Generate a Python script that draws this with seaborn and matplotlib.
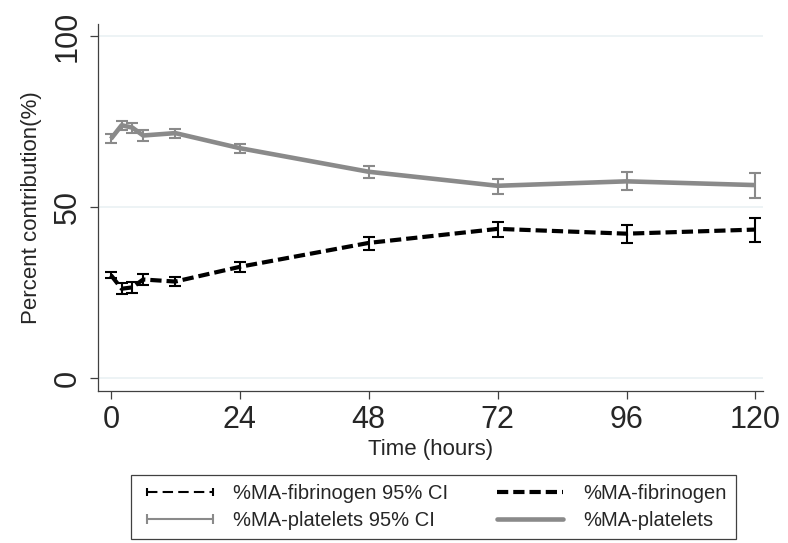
import matplotlib
matplotlib.use("Agg")
import matplotlib.pyplot as plt
from matplotlib.lines import Line2D
import seaborn as sns
import pandas as pd

# ---- data ----
times = [0, 2, 4, 6, 12, 24, 48, 72, 96, 120]
platelets = [70.0, 74.0, 73.3, 71.0, 71.7, 67.3, 60.4, 56.3, 57.6, 56.5]
platelets_lo = [68.8, 72.6, 71.8, 69.3, 70.4, 65.9, 58.6, 53.9, 55.0, 52.8]
platelets_hi = [71.3, 75.3, 74.6, 72.5, 73.0, 68.6, 62.1, 58.3, 60.2, 59.9]
fibrinogen = [30.2, 26.2, 26.6, 28.9, 28.3, 32.6, 39.6, 43.7, 42.3, 43.5]
fibrinogen_lo = [29.2, 24.6, 25.0, 27.3, 27.0, 31.2, 37.6, 41.4, 39.6, 39.8]
fibrinogen_hi = [31.2, 27.9, 28.2, 30.5, 29.7, 34.0, 41.3, 45.8, 44.8, 46.9]

labels = ["%MA-fibrinogen 95% CI", "%MA-fibrinogen",
          "%MA-platelets 95% CI", "%MA-platelets"]
x_ticks = [0, 24, 48, 72, 96, 120]
y_ticks = [0, 50, 100]

df = pd.DataFrame({
    "time": times,
    "platelets": platelets, "plt_lo": platelets_lo, "plt_hi": platelets_hi,
    "fibrinogen": fibrinogen, "fib_lo": fibrinogen_lo, "fib_hi": fibrinogen_hi,
})

sns.set_style("white")
plt.rcParams["font.family"] = ["Liberation Sans", "DejaVu Sans"]

GRAY = "#8a8a8a"
BLACK = "#000000"
AXC = "#404040"

fig = plt.figure(figsize=(7.88, 5.43), dpi=100)
ax = fig.add_axes([98 / 788, 152 / 543, 665 / 788, 367 / 543])

# grid lines
for v in y_ticks:
    ax.axhline(v, color="#e8f0f3", lw=1.1, zorder=0)

# confidence intervals
cap_kw = dict(fmt="none", capsize=4.2, elinewidth=1.5, capthick=1.5, zorder=2)
ax.errorbar(df["time"], df["fibrinogen"],
            yerr=[df["fibrinogen"] - df["fib_lo"], df["fib_hi"] - df["fibrinogen"]],
            ecolor=BLACK, **cap_kw)
ax.errorbar(df["time"], df["platelets"],
            yerr=[df["platelets"] - df["plt_lo"], df["plt_hi"] - df["platelets"]],
            ecolor=GRAY, **cap_kw)

# main lines
sns.lineplot(data=df, x="time", y="fibrinogen", ax=ax, color=BLACK, lw=3.0,
             linestyle=(0, (2.7, 1.2)), errorbar=None, zorder=3)
sns.lineplot(data=df, x="time", y="platelets", ax=ax, color=GRAY, lw=3.3,
             errorbar=None, zorder=3, solid_capstyle="butt")

ax.set_xlim(-2.4, 121.4)
ax.set_ylim(-3.7, 103.6)
ax.set_xticks(x_ticks)
ax.set_yticks(y_ticks)
ax.set_xticklabels([str(t) for t in x_ticks], fontsize=22)
ax.set_yticklabels([str(t) for t in y_ticks], fontsize=22, rotation=90, va="center")

for s in ["top", "right"]:
    ax.spines[s].set_visible(False)
for s in ["left", "bottom"]:
    ax.spines[s].set_color(AXC)
    ax.spines[s].set_linewidth(0.9)
ax.tick_params(axis="both", which="major", direction="out", length=6,
               width=0.9, color=AXC, bottom=True, left=True)
ax.tick_params(axis="x", pad=4)
ax.tick_params(axis="y", pad=5)

ax.set_xlabel("Time (hours)", fontsize=16, labelpad=3)
ax.set_ylabel("Percent contribution(%)", fontsize=16, labelpad=8)

# legend
h_fib_ci = Line2D([0], [0], color=BLACK, lw=1.5, linestyle=(0, (5, 2.5)),
                  marker="|", markersize=6, markeredgewidth=1.5)
h_fib = Line2D([0], [0], color=BLACK, lw=3.0, linestyle=(0, (2.7, 1.2)))
h_plt_ci = Line2D([0], [0], color=GRAY, lw=1.5, marker="|", markersize=7,
                  markeredgewidth=1.5)
h_plt = Line2D([0], [0], color=GRAY, lw=3.3)
leg = fig.legend([h_fib_ci, h_plt_ci, h_fib, h_plt],
                 [labels[0], labels[2], labels[1], labels[3]],
                 ncol=2, loc="center", bbox_to_anchor=(433.5 / 788, 36 / 543),
                 fontsize=14.5, frameon=True, fancybox=False, framealpha=1,
                 edgecolor=AXC, handlelength=3.9, handletextpad=0.7,
                 columnspacing=2.1, borderpad=0.45, labelspacing=0.4,
                 numpoints=2)
leg.get_frame().set_linewidth(0.9)

fig.savefig("out.png", dpi=100)
